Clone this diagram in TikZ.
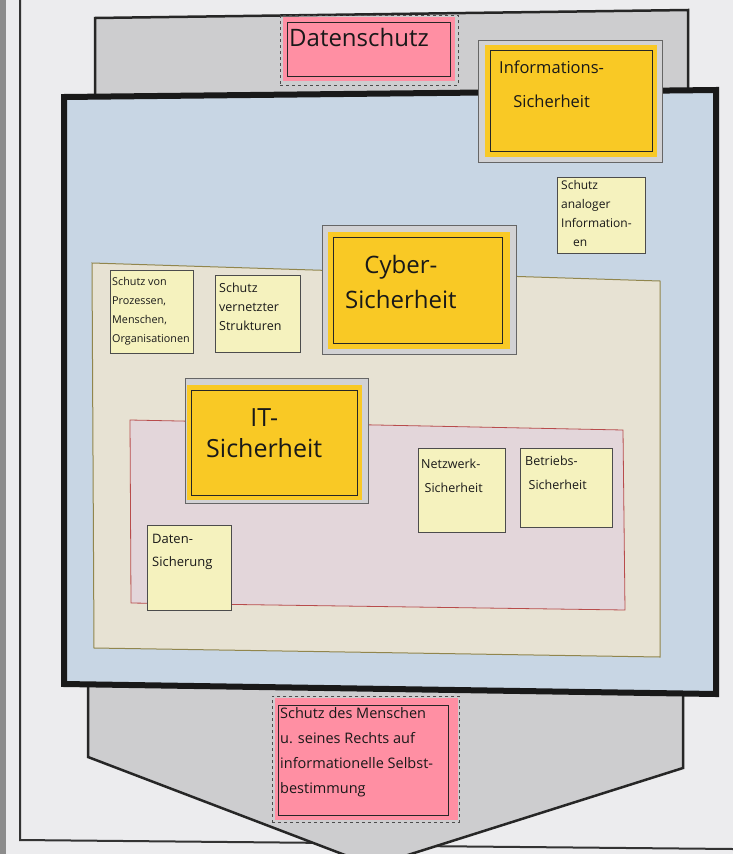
\documentclass[tikz,border=0pt]{standalone}
\usepackage{fontspec}
\setmainfont{Open Sans}
\usetikzlibrary{calc}
\definecolor{pagebg}{HTML}{ECECEE}
\definecolor{dsgrey}{HTML}{CDCDCF}
\definecolor{isblue}{HTML}{C8D6E4}
\definecolor{cybeige}{HTML}{E7E2D3}
\definecolor{itpink}{HTML}{E3D6DA}
\definecolor{notey}{HTML}{F5F2BE}
\definecolor{bigy}{HTML}{F9C925}
\definecolor{pinknote}{HTML}{FF8FA3}
\definecolor{framegrey}{HTML}{D2D2D4}
\begin{document}
\begin{tikzpicture}[x=1pt,y=-1pt,
  sticky/.style={draw=black!70, line width=0.6pt, fill=notey, inner sep=0pt, anchor=north west},
  hand/.style={anchor=north west, align=left, inner sep=0pt, text=black!90, font=\fontsize{12.5}{19}\selectfont},
  bighand/.style={anchor=north west, align=left, inner sep=0pt, text=black!90},
  frame/.style={draw=black!60, line width=0.6pt, fill=framegrey, inner sep=0pt, anchor=north west},
  bignote/.style={fill=bigy, inner sep=0pt, anchor=north west},
  innerline/.style={draw=black!85, line width=1pt},
  pinkbox/.style={fill=pinknote, inner sep=0pt, anchor=north west},
  dashbox/.style={draw=black!70, dashed, line width=0.6pt, inner sep=0pt, anchor=north west}
]
\fill[pagebg] (0,0) rectangle (733,854);
\useasboundingbox (0,0) rectangle (733,854);
% left edge of the board
\fill[black!45] (0,0) rectangle (6,854);
\draw[black!80, line width=2pt] (20,0) -- (20,840) -- (333,843);
\draw[black!80, line width=2pt] (415,846) -- (733,849);

% Datenschutz (grey) region
\filldraw[fill=dsgrey, draw=black!85, line width=2.5pt]
  (95,18) -- (688,10) -- (688,100) -- (683,690) -- (683,768) -- (392,860) -- (358,860)
  -- (88,757) -- (88,690) -- (95,100) -- cycle;

% Informationssicherheit (blue) region
\filldraw[fill=isblue, draw=black!90, line width=6pt]
  (64,97) -- (716,90) -- (716,694) -- (64,684) -- cycle;

% Cyber region (beige)
\filldraw[fill=cybeige, draw=black!55!yellow!80!brown, line width=1pt]
  (92,263) -- (660,281) -- (660,657) -- (94,648) -- cycle;

% IT region (pink)
\filldraw[fill=itpink, draw=red!60!black!70, line width=0.8pt]
  (130,420) -- (623,430) -- (625,610) -- (131,603) -- cycle;

% Datenschutz note
\node[dashbox, minimum width=178, minimum height=70] (dsd) at (280,15) {};
\node[pinkbox, minimum width=172, minimum height=64] (ds) at (283,17) {};
\draw[innerline] ($(ds.north west)+(4,5)$) rectangle ($(ds.south east)+(-5,-5)$);
\node[bighand, font=\fontsize{24}{28}\selectfont] (dst) at (289,28) {Datenschutz};

% Informationssicherheit note
\node[frame, minimum width=184, minimum height=122] (isf) at (478,40) {};
\node[bignote, minimum width=172, minimum height=112] (is) at (485,45) {};
\draw[innerline] ($(is.north west)+(5,5)$) rectangle ($(is.south east)+(-5,-6)$);
\node[bighand, align=center, font=\fontsize{16.5}{34}\selectfont] (ist) at (499,61) {Informations-\\Sicherheit};

% Schutz analoger Informationen
\node[sticky, minimum width=88, minimum height=76] (san) at (557,177) {};
\node[hand, font=\fontsize{12}{19}\selectfont] (sant) at (561,180) {Schutz\\analoger\\Information-\\\quad en};

% Cyber-Sicherheit note
\node[frame, minimum width=194, minimum height=129] (cyf) at (322,225) {};
\node[bignote, minimum width=182, minimum height=117] (cy) at (328,232) {};
\draw[innerline] ($(cy.north west)+(5,5)$) rectangle ($(cy.south east)+(-8,-6)$);
\node[bighand, align=center, font=\fontsize{24}{35}\selectfont] (cyt) at (345,255) {Cyber-\\Sicherheit};

% Schutz von Prozessen ...
\node[sticky, minimum width=83, minimum height=83] (spm) at (110,270) {};
\node[hand, font=\fontsize{10.8}{19}\selectfont] (spmt) at (112,277) {Schutz von\\Prozessen,\\Menschen,\\Organisationen};

% Schutz vernetzter Strukturen
\node[sticky, minimum width=85, minimum height=77] (svs) at (215,275) {};
\node[hand] (svst) at (219,283) {Schutz\\vernetzter\\Strukturen};

% IT-Sicherheit note
\node[frame, minimum width=183, minimum height=125] (itf) at (185,378) {};
\node[bignote, minimum width=175, minimum height=115] (it) at (187,385) {};
\draw[innerline] ($(it.north west)+(4,5)$) rectangle ($(it.south east)+(-5,-5)$);
\node[bighand, align=center, font=\fontsize{25}{31}\selectfont] (itt) at (206,408) {IT-\\Sicherheit};

% Netzwerk-Sicherheit
\node[sticky, minimum width=87, minimum height=84] (nws) at (418,448) {};
\node[hand, font=\fontsize{12.5}{24}\selectfont] (nwst) at (421,459) {Netzwerk-\\\;Sicherheit};

% Betriebs-Sicherheit
\node[sticky, minimum width=92, minimum height=79] (bts) at (520,448) {};
\node[hand, font=\fontsize{12.5}{24}\selectfont] (btst) at (525,456) {Betriebs-\\\;Sicherheit};

% Datensicherung
\node[sticky, minimum width=84, minimum height=85] (dsi) at (147,525) {};
\node[hand, font=\fontsize{13}{23}\selectfont] (dsit) at (152,534) {Daten-\\Sicherung};

% Schutz des Menschen note
\node[dashbox, minimum width=187, minimum height=126] (smd) at (272,696) {};
\node[pinkbox, minimum width=183, minimum height=122] (sm) at (275,698) {};
\draw[innerline] ($(sm.north west)+(3,7)$) rectangle ($(sm.south east)+(-10,-5)$);
\node[hand, font=\fontsize{14.5}{25}\selectfont] (smt) at (280,707) {Schutz des Menschen\\u. seines Rechts auf\\informationelle Selbst-\\bestimmung};
\end{tikzpicture}
\end{document}
